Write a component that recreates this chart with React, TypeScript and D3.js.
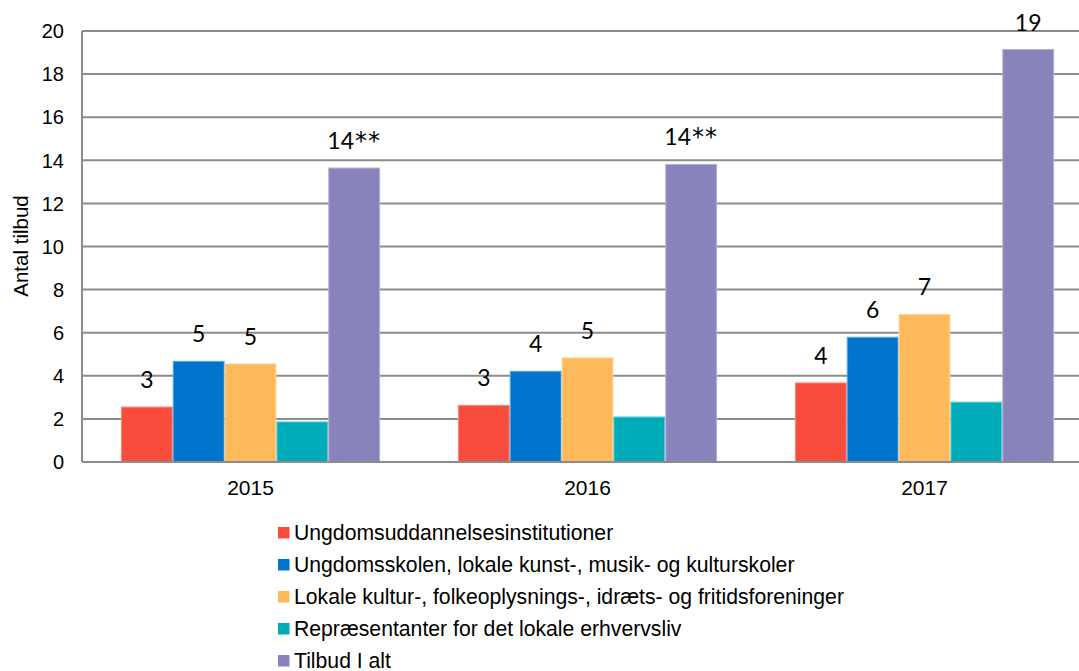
import React from 'react';
import * as d3 from 'd3';

const years = ['2015', '2016', '2017'];
const seriesNames = [
  'Ungdomsuddannelsesinstitutioner',
  'Ungdomsskolen, lokale kunst-, musik- og kulturskoler',
  'Lokale kultur-, folkeoplysnings-, idræts- og fritidsforeninger',
  'Repræsentanter for det lokale erhvervsliv',
  'Tilbud I alt',
];
const seriesColors = ['#F84C3C', '#0075CE', '#FDB95A', '#00ABB8', '#8884BB'];
const seriesEdges = ['#FA8A80', '#5FA6E0', '#FDD59C', '#6ACCD4', '#B3B0D6'];

// bar heights per series, one value per year
const ungdomsudd = [2.55, 2.63, 3.67];
const ungdomsskolen = [4.67, 4.21, 5.79];
const foreninger = [4.55, 4.83, 6.85];
const erhvervsliv = [1.86, 2.09, 2.78];
const tilbudIAlt = [13.64, 13.81, 19.14];
const seriesValues = [ungdomsudd, ungdomsskolen, foreninger, erhvervsliv, tilbudIAlt];

// printed data labels (teal series has none)
const ungdomsuddLabels = ['3', '3', '4'];
const ungdomsskolenLabels = ['5', '4', '6'];
const foreningerLabels = ['5', '5', '7'];
const erhvervslivLabels = ['', '', ''];
const tilbudLabels = ['14**', '14**', '19'];
const seriesLabels = [ungdomsuddLabels, ungdomsskolenLabels, foreningerLabels, erhvervslivLabels, tilbudLabels];

const yTicks = [0, 2, 4, 6, 8, 10, 12, 14, 16, 18, 20];

export default function App() {
  const width = 1079;
  const height = 671;
  const left = 82;
  const top = 31;
  const bottom = 462;
  const right = 1093;

  const x = d3.scaleBand().domain(years).range([left, right]).paddingInner(0).paddingOuter(0);
  const xs = d3.scaleBand().domain(seriesNames).range([0, x.bandwidth()]).paddingInner(0).paddingOuter(0.75);
  const y = d3.scaleLinear().domain([0, 20]).range([bottom, top]);

  const arial = '"Liberation Sans", Arial, sans-serif';
  const labelFont = 'Lato, "Open Sans", sans-serif';
  const legendY = d3.scalePoint().domain(seriesNames).range([540, 668]);

  // split "14**" into digits and the asterisks so the stars can be drawn larger
  const renderLabel = (lbl: string) => {
    const m = lbl.match(/^([^*]*)(\**)$/);
    const num = m ? m[1] : lbl;
    const stars = m ? m[2] : '';
    return (
      <>
        {num}
        {stars && <tspan fontFamily='"DejaVu Sans", sans-serif' fontSize={24} letterSpacing={1} dx={1}>{stars}</tspan>}
      </>
    );
  };

  return (
    <svg width={width} height={height} style={{ position: 'absolute', left: 0, top: 0, display: 'block', background: '#fff' }}>
      {/* gridlines */}
      {yTicks.map(t => (
        <line key={t} x1={left} x2={width} y1={y(t)} y2={y(t)} stroke="#8C8C8C" strokeWidth={2} />
      ))}
      <line x1={left} x2={left} y1={top} y2={bottom} stroke="#8C8C8C" strokeWidth={2} />

      {/* y ticks */}
      {yTicks.map(t => (
        <text key={t} x={64} y={y(t)} dy="0.36em" textAnchor="end" fontFamily={arial} fontSize={20} fill="#000">{t}</text>
      ))}
      <text transform={`translate(28,246) rotate(-90)`} textAnchor="middle" fontFamily={arial} fontSize={20.5} fill="#000">Antal tilbud</text>

      {/* bars */}
      {years.map((yr, i) => (
        <g key={yr}>
          {seriesNames.map((s, j) => {
            const v = seriesValues[j][i];
            const bx = (x(yr) as number) + (xs(s) as number);
            return (
              <rect key={s} x={bx + 0.5} y={y(v)} width={xs.bandwidth() - 1} height={bottom - y(v)}
                fill={seriesColors[j]} stroke={seriesEdges[j]} strokeWidth={1} />
            );
          })}
          {seriesNames.map((s, j) => {
            const lbl = seriesLabels[j][i];
            if (!lbl) return null;
            const v = seriesValues[j][i];
            const cx = (x(yr) as number) + (xs(s) as number) + xs.bandwidth() / 2;
            return (
              <text key={s} x={cx} y={y(v) - 19} textAnchor="middle" fontFamily={labelFont} fontSize={23} fill="#000">{renderLabel(lbl)}</text>
            );
          })}
          <text x={(x(yr) as number) + x.bandwidth() / 2} y={495} textAnchor="middle" fontFamily={arial} fontSize={21} fill="#000">{yr}</text>
        </g>
      ))}
      <line x1={left} x2={width} y1={bottom} y2={bottom} stroke="#8C8C8C" strokeWidth={2} />

      {/* legend */}
      {seriesNames.map((s, j) => (
        <g key={s}>
          <rect x={278} y={(legendY(s) as number) - 13} width={11.5} height={11.5} fill={seriesColors[j]} />
          <text x={294} y={legendY(s)} fontFamily={arial} fontSize={21.2} fill="#000">{s}</text>
        </g>
      ))}
    </svg>
  );
}
